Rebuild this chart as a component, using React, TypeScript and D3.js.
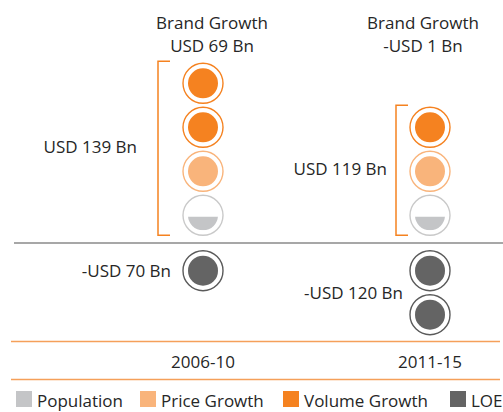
import * as d3 from "d3";

const periods = ["2006-10", "2011-15"];
const brandGrowth = ["USD 69 Bn", "-USD 1 Bn"];
const positiveTotals = ["USD 139 Bn", "USD 119 Bn"];
const loeTotals = ["-USD 70 Bn", "-USD 120 Bn"];
const volumeCircles = [2, 1];
const priceCircles = [1, 1];
const populationShare = [0.45, 0.45]; // filled part of the population circle
const loeCircles = [1, 2];
const legendItems = ["Population", "Price Growth", "Volume Growth", "LOE"];

const W = 503;
const H = 412;
const FONT = "'Open Sans', 'DejaVu Sans', sans-serif";
const TEXT = "#262626";

const colors: Record<string, { fill: string; ring: string }> = {
  Population: { fill: "#c4c5c7", ring: "#c9c9c9" },
  "Price Growth": { fill: "#f9b47b", ring: "#f9b47b" },
  "Volume Growth": { fill: "#f58220", ring: "#f58220" },
  LOE: { fill: "#646464", ring: "#5a5a5a" },
};

// layout tweaks per column (title shift, label anchors)
const titleShift = [9, -7];
const bracketOffset = [-45, -34];
const posLabelGap = [21, 9];
const negLabelGap = [32, 27];

const R_OUT = 20;
const R_IN = 15;

type Dot = { key: string; cat: string; slot: number; share?: number };

export default function App() {
  const x = d3.scalePoint<string>().domain(periods).range([203, 430]);
  // one circle slot = 1 unit; 0 is the gray base line
  const y = d3.scaleLinear().domain([0, 1]).range([243, 199]);
  const slotY = (slot: number) => (slot >= 0 ? y(slot + 0.63) : y(slot + 0.37));

  const columns = periods.map((p, i) => {
    const pos: Dot[] = [];
    pos.push({ key: `${p}-pop`, cat: "Population", slot: 0, share: populationShare[i] });
    d3.range(priceCircles[i]).forEach(() => pos.push({ key: `${p}-pr${pos.length}`, cat: "Price Growth", slot: pos.length }));
    d3.range(volumeCircles[i]).forEach(() => pos.push({ key: `${p}-vo${pos.length}`, cat: "Volume Growth", slot: pos.length }));
    const neg: Dot[] = d3.range(loeCircles[i]).map((k) => ({ key: `${p}-loe${k}`, cat: "LOE", slot: -1 - k }));
    return { p, i, pos, neg };
  });

  return (
    <svg
      width={W}
      height={H}
      style={{ position: "fixed", left: 0, top: 0, background: "#fff" }}
      fontFamily={FONT}
    >
      <defs>
        {columns.map((c) =>
          c.pos
            .filter((d) => d.share !== undefined)
            .map((d) => {
              const cy = slotY(d.slot);
              const top = cy + R_IN - 2 * R_IN * (d.share as number);
              return (
                <clipPath id={`clip-${c.i}`} key={d.key}>
                  <rect x={x(c.p)! - R_IN} y={top} width={R_IN * 2} height={cy + R_IN - top} />
                </clipPath>
              );
            })
        )}
      </defs>

      {/* base lines */}
      <line x1={14} x2={503} y1={y(0)} y2={y(0)} stroke="#8a8a8a" strokeWidth={1.4} />
      <line x1={11} x2={500} y1={341.5} y2={341.5} stroke="#f5a05a" strokeWidth={1.5} />
      <line x1={11} x2={500} y1={379.5} y2={379.5} stroke="#f5a05a" strokeWidth={1.5} />

      {columns.map((c) => {
        const cx = x(c.p)!;
        const topSlot = c.pos.length - 1;
        const bTop = slotY(topSlot) - R_OUT - 2;
        const bBot = slotY(0) + R_OUT;
        const bx = cx + bracketOffset[c.i];
        const negMid = (slotY(-1) + slotY(-c.neg.length)) / 2;
        return (
          <g key={c.p}>
            {/* titles */}
            <text x={cx + titleShift[c.i]} y={22} textAnchor="middle" dominantBaseline="central" fontSize={17} fill={TEXT}>
              Brand Growth
            </text>
            <text x={cx + titleShift[c.i]} y={45} textAnchor="middle" dominantBaseline="central" fontSize={17} fill={TEXT}>
              {brandGrowth[c.i]}
            </text>

            {/* bracket */}
            <path
              d={`M${bx + 12},${bTop}H${bx}V${bBot}H${bx + 12}`}
              fill="none"
              stroke="#f58220"
              strokeWidth={1.5}
            />
            <text
              x={bx - posLabelGap[c.i]}
              y={(bTop + bBot) / 2 - 2}
              textAnchor="end"
              dominantBaseline="central"
              fontSize={17}
              fill={TEXT}
            >
              {positiveTotals[c.i]}
            </text>

            {[...c.pos, ...c.neg].map((d) => {
              const cy = slotY(d.slot);
              const col = colors[d.cat];
              return (
                <g key={d.key}>
                  <circle cx={cx} cy={cy} r={R_OUT} fill="#fff" stroke={col.ring} strokeWidth={1.4} />
                  <circle
                    cx={cx}
                    cy={cy}
                    r={R_IN}
                    fill={col.fill}
                    clipPath={d.share !== undefined ? `url(#clip-${c.i})` : undefined}
                  />
                </g>
              );
            })}

            <text
              x={cx - negLabelGap[c.i]}
              y={negMid}
              textAnchor="end"
              dominantBaseline="central"
              fontSize={17}
              fill={TEXT}
            >
              {loeTotals[c.i]}
            </text>

            <text x={cx} y={361} textAnchor="middle" dominantBaseline="central" fontSize={17} fill={TEXT}>
              {c.p}
            </text>
          </g>
        );
      })}

      {/* legend */}
      {legendItems.map((name, i) => {
        const lx = [16, 140, 283, 450][i];
        return (
          <g key={name}>
            <rect x={lx} y={391} width={16} height={16} fill={colors[name].fill} />
            <text x={lx + 21} y={400} dominantBaseline="central" fontSize={17} fill={TEXT}>
              {name}
            </text>
          </g>
        );
      })}
    </svg>
  );
}
